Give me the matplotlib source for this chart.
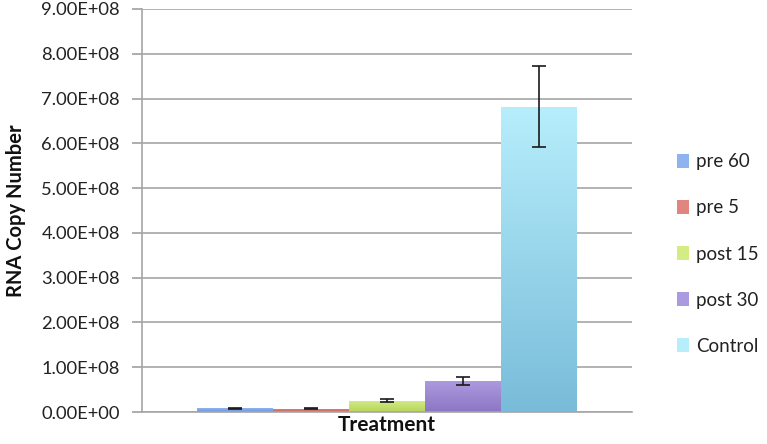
import matplotlib.pyplot as plt
import matplotlib.ticker as mticker
import numpy as np
from matplotlib.colors import LinearSegmentedColormap

plt.rcParams['font.family'] = ['Lato', 'DejaVu Sans']

# data
groups = ["pre 60", "pre 5", "post 15", "post 30", "Control"]
copies = [8.0e6, 7.0e6, 2.55e7, 6.9e7, 6.82e8]
errors = [1.0e6, 1.0e6, 4.0e6, 9.0e6, 9.0e7]
top_colors = ["#8db3f0", "#e08580", "#d3ec84", "#ac9ae0", "#b7eefc"]
bottom_colors = ["#6f96dc", "#c9645e", "#b8d55c", "#8c76c2", "#79bcd9"]


def main():
    fig = plt.figure(figsize=(7.67, 4.44), dpi=100)
    ax = fig.add_axes([142 / 767, 32 / 444, 490 / 767, 403 / 444])

    x = np.arange(len(groups))
    bars = ax.bar(x, copies, width=1.0, color=top_colors, label=None, zorder=2)

    # vertical gradient inside each bar, like the old Excel look
    grad = np.linspace(1, 0, 256).reshape(-1, 1)
    for b, c_top, c_bot in zip(bars, top_colors, bottom_colors):
        cmap = LinearSegmentedColormap.from_list("g", [c_bot, c_top])
        bx, by = b.get_x(), b.get_y()
        w, h = b.get_width(), b.get_height()
        im = ax.imshow(grad, cmap=cmap, aspect="auto", zorder=2.5,
                       extent=[bx, bx + w, by, by + h], vmin=0, vmax=1)
        im.set_clip_path(b)

    ax.errorbar(x, copies, yerr=errors, fmt="none", ecolor="#1a1a1a",
                elinewidth=1.2, capsize=5, capthick=1.2, zorder=3)

    ax.set_xlim(2 - 3.224, 2 + 3.224)
    ax.set_ylim(0, 9e8)
    ax.set_yticks(np.arange(0, 9.01e8, 1e8))
    ax.yaxis.set_major_formatter(mticker.FuncFormatter(
        lambda v, p: "{:.2E}".format(v)))
    ax.set_xticks([])
    ax.tick_params(axis="y", labelsize=13.2, colors="#a0a0a0", labelcolor="#222222",
                   length=7, width=1.2, pad=9)

    ax.grid(axis="y", color="#a6a6a6", linewidth=1.2, zorder=0)
    ax.set_axisbelow(True)
    for s in ["top", "right"]:
        ax.spines[s].set_visible(False)
    for s in ["left", "bottom"]:
        ax.spines[s].set_color("#a6a6a6")
        ax.spines[s].set_linewidth(1.2)

    ax.set_ylabel("RNA Copy Number", fontsize=14.5, fontweight="bold",
                  color="#111111", labelpad=11)
    ax.set_xlabel("Treatment", fontsize=15, fontweight="bold",
                  color="#111111", labelpad=2)

    handles = [plt.Rectangle((0, 0), 1, 1, facecolor=c) for c in top_colors]
    fig.legend(handles, groups, loc="center left",
               bbox_to_anchor=(677 / 767, 190 / 444), frameon=False,
               borderpad=0, borderaxespad=0,
               fontsize=13.5, handlelength=0.62, handleheight=0.75,
               handletextpad=0.4, labelspacing=1.55, labelcolor="#222222")

    fig.savefig("out.png", dpi=100)


if __name__ == "__main__":
    main()
